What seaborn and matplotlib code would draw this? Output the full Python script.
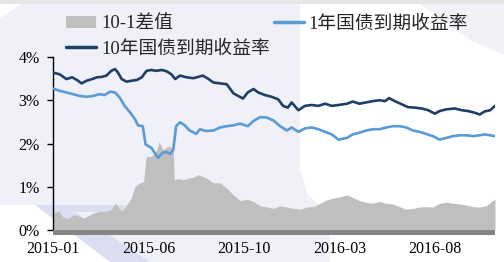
import matplotlib
matplotlib.use("Agg")
import matplotlib.pyplot as plt
from matplotlib.patches import Polygon, Patch, Rectangle
from matplotlib.lines import Line2D
import seaborn as sns
import pandas as pd

# ---------------- data (trading-day index, values in %) ----------------
tick_pos = [0, 100, 200, 300, 400]
tick_labels = ["2015-01", "2015-06", "2015-10", "2016-03", "2016-08"]
y_ticks = [0, 1, 2, 3, 4]
y_tick_labels = ["0%", "1%", "2%", "3%", "4%"]

days_10y = [0, 7, 14, 20, 25, 30, 35, 41, 46, 51, 56, 61, 65, 68, 72, 77, 82, 88, 93, 98,
            103, 108, 114, 119, 124, 128, 133, 140, 147, 152, 157, 163, 168, 175, 182, 189,
            194, 199, 204, 210, 215, 222, 229, 236, 241, 246, 250, 257, 264, 271, 278, 285,
            292, 299, 308, 314, 321, 328, 335, 342, 348, 352, 358, 365, 372, 379, 386, 393,
            400, 405, 412, 421, 428, 435, 442, 447, 452, 458, 463]
yield_10y = [3.64, 3.60, 3.49, 3.53, 3.47, 3.39, 3.45, 3.49, 3.53, 3.54, 3.57, 3.68, 3.72,
             3.64, 3.49, 3.43, 3.45, 3.47, 3.53, 3.68, 3.70, 3.68, 3.70, 3.67, 3.60, 3.49,
             3.57, 3.53, 3.51, 3.54, 3.57, 3.49, 3.41, 3.39, 3.37, 3.16, 3.10, 3.04, 3.18,
             3.26, 3.18, 3.12, 3.08, 3.02, 2.87, 2.83, 2.95, 2.77, 2.87, 2.89, 2.87, 2.92,
             2.87, 2.89, 2.92, 2.97, 2.92, 2.95, 2.98, 3.00, 2.98, 3.05, 2.98, 2.91, 2.84,
             2.83, 2.81, 2.77, 2.69, 2.75, 2.79, 2.81, 2.77, 2.75, 2.71, 2.67, 2.74, 2.77,
             2.87]

days_1y = [0, 7, 14, 21, 28, 35, 42, 49, 54, 60, 65, 70, 75, 81, 86, 89, 94, 97, 103, 110,
           115, 119, 123, 126, 129, 133, 138, 143, 147, 150, 154, 160, 168, 175, 182, 189,
           196, 204, 210, 217, 224, 231, 238, 245, 250, 257, 264, 271, 278, 285, 292, 299,
           308, 314, 321, 328, 335, 342, 349, 356, 363, 370, 377, 384, 391, 398, 405, 412,
           419, 426, 433, 440, 447, 452, 458, 463]
yield_1y = [3.27, 3.22, 3.18, 3.14, 3.10, 3.08, 3.10, 3.14, 3.12, 3.20, 3.18, 3.06, 2.87,
            2.71, 2.56, 2.42, 2.40, 1.98, 1.90, 1.67, 1.79, 1.80, 1.76, 1.86, 2.40, 2.49,
            2.42, 2.30, 2.26, 2.22, 2.33, 2.29, 2.30, 2.37, 2.40, 2.42, 2.46, 2.40, 2.52,
            2.61, 2.60, 2.53, 2.40, 2.30, 2.37, 2.27, 2.35, 2.37, 2.33, 2.27, 2.21, 2.09,
            2.13, 2.21, 2.25, 2.30, 2.33, 2.33, 2.37, 2.40, 2.40, 2.37, 2.30, 2.27, 2.22,
            2.17, 2.09, 2.13, 2.17, 2.19, 2.19, 2.17, 2.19, 2.21, 2.19, 2.17]

days_spread = [0, 6, 11, 16, 21, 26, 32, 37, 42, 49, 56, 61, 65, 68, 72, 77, 82, 86, 91, 95,
               97, 98, 103, 109, 111, 115, 121, 124, 126, 127, 131, 136, 142, 147, 152, 161,
               168, 175, 182, 189, 196, 203, 210, 217, 224, 231, 238, 245, 252, 259, 266,
               273, 280, 287, 294, 301, 308, 315, 321, 328, 335, 342, 349, 356, 363, 370,
               377, 384, 391, 398, 405, 412, 419, 426, 433, 440, 447, 454, 459, 463]
spread = [0.39, 0.43, 0.29, 0.27, 0.35, 0.33, 0.27, 0.33, 0.39, 0.43, 0.43, 0.47, 0.62,
          0.54, 0.43, 0.58, 0.74, 1.01, 1.09, 1.12, 1.60, 1.70, 1.70, 1.86, 2.04, 1.86,
          1.94, 1.90, 1.85, 1.16, 1.19, 1.16, 1.20, 1.22, 1.28, 1.20, 1.09, 1.09, 0.97,
          0.81, 0.68, 0.71, 0.66, 0.56, 0.53, 0.50, 0.56, 0.53, 0.50, 0.48, 0.53, 0.54,
          0.62, 0.70, 0.74, 0.77, 0.81, 0.74, 0.68, 0.64, 0.62, 0.66, 0.62, 0.60, 0.54,
          0.48, 0.50, 0.53, 0.54, 0.53, 0.62, 0.64, 0.62, 0.60, 0.58, 0.54, 0.53, 0.56,
          0.66, 0.71]

label_spread = "10-1差值"
label_1y = "1年国债到期收益率"
label_10y = "10年国债到期收益率"

c_spread = "#bfbfbf"
c_1y = "#5b9bd5"
c_10y = "#1f3f66"

# ---------------- style ----------------
sns.set_style("white")
fonts = ["Liberation Serif", "Noto Sans CJK SC", "DejaVu Sans"]
plt.rcParams["font.family"] = fonts

W, H = 504, 262
fig = plt.figure(figsize=(W / 100, H / 100), dpi=100)
fig.patch.set_facecolor("white")

# decorative background (pixel coordinates)
bg = fig.add_axes([0, 0, 1, 1], zorder=-10)
bg.set_xlim(0, W)
bg.set_ylim(H, 0)
bg.axis("off")
bg.add_patch(Polygon([(0, 18), (22, 4), (300, 4), (300, 170), (308, 195), (330, 215),
                      (330, 262), (110, 262), (35, 205), (0, 205)],
                     closed=True, color="#eff0f8", lw=0))
bg.add_patch(Polygon([(35, 205), (125, 205), (125, 212), (75, 212), (150, 262), (110, 262)],
                     closed=True, color="#dcdff1", lw=0))
bg.add_patch(Polygon([(420, 4), (504, 4), (504, 55), (470, 40)],
                     closed=True, color="#f1f2f8", lw=0))
bg.add_patch(Rectangle((0, 0), W, 4, color="#e6e6e6", lw=0))

# main axes
ax = fig.add_axes([53 / W, (H - 230) / H, 442 / W, 173 / H])
ax.set_facecolor("none")

ax.fill_between(days_spread, spread, 0, color=c_spread, lw=0, zorder=1)
df10 = pd.DataFrame({"day": days_10y, "val": yield_10y})
df1 = pd.DataFrame({"day": days_1y, "val": yield_1y})
sns.lineplot(data=df1, x="day", y="val", ax=ax, color=c_1y, lw=1.9, zorder=3)
sns.lineplot(data=df10, x="day", y="val", ax=ax, color=c_10y, lw=1.9, zorder=4)

ax.set_xlim(0, 463)
ax.set_ylim(0, 4)
ax.set_xlabel("")
ax.set_ylabel("")

# bottom gray band below the zero line
ax.add_patch(Rectangle((0, -0.12), 463, 0.12, color="#858585", lw=0, clip_on=False, zorder=5))

for s in ["top", "right", "bottom"]:
    ax.spines[s].set_visible(False)
ax.spines["left"].set_color("black")
ax.spines["left"].set_linewidth(1.0)

ax.set_yticks(y_ticks)
ax.set_yticklabels(y_tick_labels)
ax.set_xticks(tick_pos)
ax.set_xticklabels(tick_labels)
ax.tick_params(axis="y", left=True, length=4.5, width=1.0, color="black", pad=5,
               labelsize=11.5, labelcolor="black")
ax.tick_params(axis="x", bottom=False, length=0, pad=8, labelsize=11.5, labelcolor="black")
for t in ax.get_xticklabels() + ax.get_yticklabels():
    t.set_fontfamily(fonts)

handles = [Patch(facecolor=c_spread, edgecolor="none"),
           Line2D([], [], color=c_10y, lw=2.5),
           Line2D([], [], color=c_1y, lw=2.5)]
labels = [label_spread, label_10y, label_1y]
fig.legend(handles, labels, loc="upper left", bbox_to_anchor=(66 / W, 1 - 15 / H),
           ncol=2, frameon=False, prop={"family": fonts, "size": 13.5},
           handlelength=1.6, handleheight=0.6, handletextpad=0.27, columnspacing=0.2,
           labelspacing=0.42, borderaxespad=0, borderpad=0)

fig.savefig("out.png", dpi=100)
